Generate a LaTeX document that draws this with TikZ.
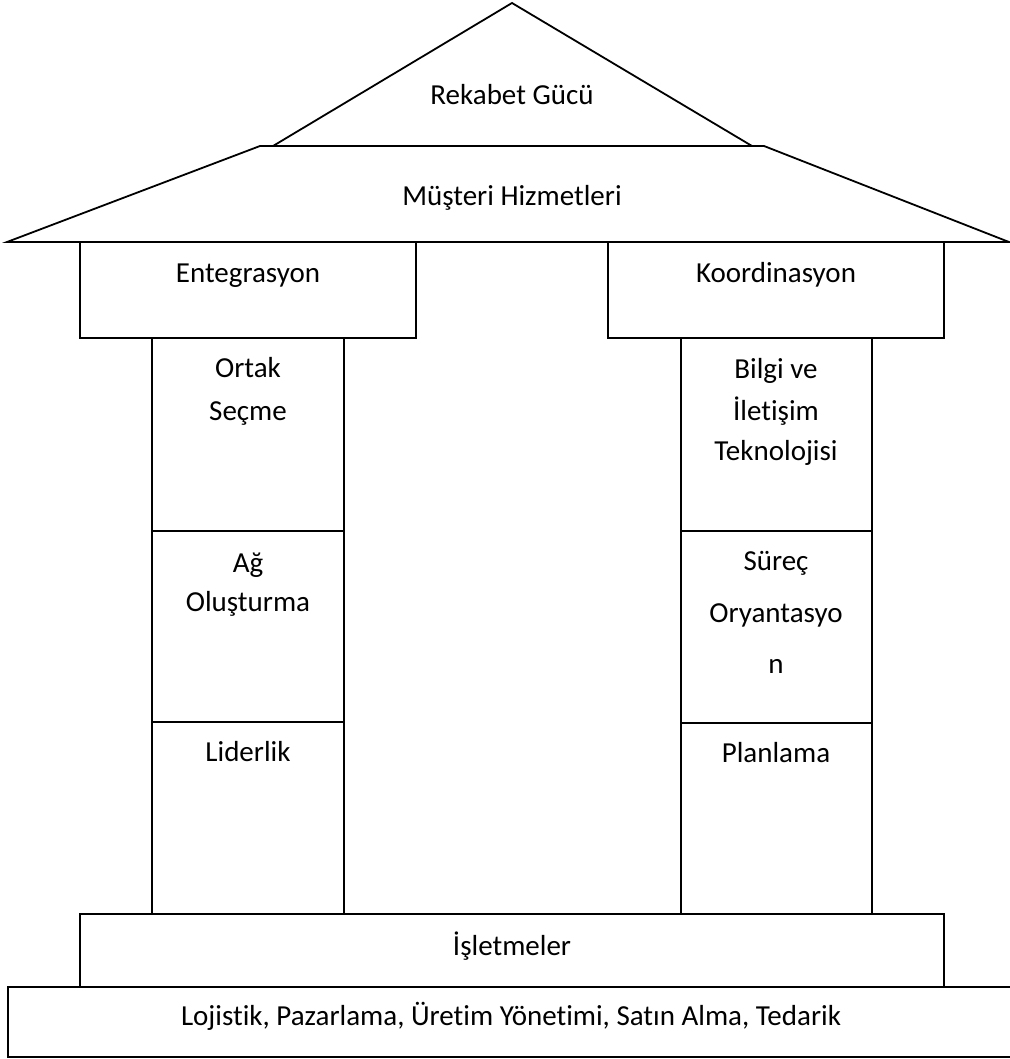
\documentclass[tikz,border=0pt]{standalone}
\usepackage{fontspec}
\setmainfont[RawFeature={-liga;-clig;-dlig;-rlig;-calt}]{Carlito}
\begin{document}
\begin{tikzpicture}[x=1pt,y=-1pt,
    part/.style={draw=black,line width=1.8pt,line join=miter},
    lbl/.style={anchor=base,inner sep=0pt,font=\fontsize{29}{35}\selectfont,text=black}]
  \useasboundingbox (0,0) rectangle (1009,1059);

  % roof: peak and eaves
  \draw[part] (7,242) -- (260,146) -- (764,146) -- (1009,242) -- cycle;
  \draw[part] (273,146) -- (512,3) -- (752,146);

  % capitals
  \draw[part] (80,242) rectangle (416,338);
  \draw[part] (608,242) rectangle (944,338);

  % left pillar
  \draw[part] (152,338) rectangle (344,914);
  \draw[part] (152,531) -- (344,531);
  \draw[part] (152,722) -- (344,722);

  % right pillar
  \draw[part] (681,338) rectangle (872,914);
  \draw[part] (681,531) -- (872,531);
  \draw[part] (681,723) -- (872,723);

  % base steps
  \draw[part] (80,914) rectangle (944,987);
  \draw[part] (1012,987) -- (8,987) -- (8,1057) -- (1012,1057);

  % labels
  \node[lbl] (rekabet) at (512,105) {Rekabet Gücü};
  \node[lbl] (musteri) at (512,206) {Müşteri Hizmetleri};
  \node[lbl] (entegrasyon) at (248,282) {Entegrasyon};
  \node[lbl] (koordinasyon) at (776,282) {Koordinasyon};

  \node[lbl] (ortakA) at (248,377) {Ortak};
  \node[lbl] (ortakB) at (248,420) {Seçme};
  \node[lbl] (agA) at (248,572) {Ağ};
  \node[lbl] (agB) at (248,611) {Oluşturma};
  \node[lbl] (liderlik) at (248,761) {Liderlik};

  \node[lbl] (bilgiA) at (776,378) {Bilgi ve};
  \node[lbl] (bilgiB) at (776,420) {İletişim};
  \node[lbl] (bilgiC) at (776,460) {Teknolojisi};
  \node[lbl] (surecA) at (776,570) {Süreç};
  \node[lbl] (surecB) at (776,622) {Oryantasyo};
  \node[lbl] (surecC) at (776,673) {n};
  \node[lbl] (planlama) at (776,762) {Planlama};

  \node[lbl] (isletmeler) at (512,955) {İşletmeler};
  \node[lbl] (fonksiyon) at (511,1025) {Lojistik, Pazarlama, Üretim Yönetimi, Satın Alma, Tedarik};
\end{tikzpicture}
\end{document}
